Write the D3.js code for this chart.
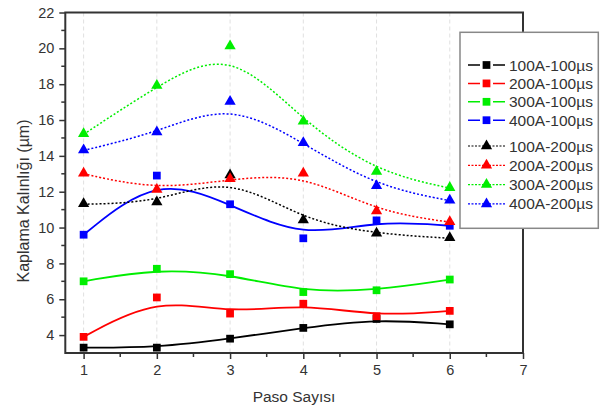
<!DOCTYPE html>
<html>
<head>
<meta charset="utf-8">
<script src="https://cdn.jsdelivr.net/npm/d3@7"></script>
<style>
body { margin:0; background:#fff; }
text { font-family: "Liberation Sans", Arial, sans-serif; fill:#333; }
</style>
</head>
<body>
<svg class="graph1"></svg>
<script>
// paso sayisi (x)
var steps = [1,2,3,4,5,6];
var xTicks = [1,2,3,4,5,6,7];
var yTicks = [4,6,8,10,12,14,16,18,20,22];

// kaplama kalinligi values
var s100A100 = [3.3,3.3,3.8,4.4,4.9,4.6];
var s200A100 = [3.9,6.1,5.2,5.75,5.05,5.35];
var s300A100 = [7.0,7.7,7.4,6.4,6.5,7.1];
var s400A100 = [9.6,12.9,11.3,9.4,10.4,10.1];
var s100A200 = [11.3,11.4,12.9,10.4,9.65,9.4];
var s200A200 = [13.0,12.1,12.7,13.0,10.9,10.3];
var s300A200 = [15.2,17.9,20.1,15.9,13.1,12.2];
var s400A200 = [14.3,15.3,17.0,14.7,12.3,11.5];

var names = ["100A-100\u00b5s","200A-100\u00b5s","300A-100\u00b5s","400A-100\u00b5s",
             "100A-200\u00b5s","200A-200\u00b5s","300A-200\u00b5s","400A-200\u00b5s"];
var values = [s100A100,s200A100,s300A100,s400A100,s100A200,s200A200,s300A200,s400A200];
var colors = ["#000000","#ff0000","#00ee00","#0000ff","#000000","#ff0000","#00ee00","#0000ff"];

var series = names.map(function(n,i){
    return {name:n, values:values[i], color:colors[i], dotted:i>=4};
});

var screen = {width:600,height:407};
var plot = {left:65.3,right:523,top:12.5,bottom:353};

var svg = d3.select(".graph1")
    .attr("width",screen.width)
    .attr("height",screen.height);

var xScale = d3.scaleLinear().domain([0.75,7]).range([plot.left,plot.right]);
var yScale = d3.scaleLinear().domain([3,22]).range([plot.bottom,plot.top]);

// vertical grid
svg.append("g")
    .selectAll("line")
    .data(steps)
    .enter()
    .append("line")
    .attr("x1",function(d){return xScale(d);})
    .attr("x2",function(d){return xScale(d);})
    .attr("y1",plot.top)
    .attr("y2",plot.bottom)
    .attr("stroke","#e0e0e0")
    .attr("stroke-width",1)
    .attr("stroke-dasharray","4,3");

var line = d3.line()
    .x(function(d,i){return xScale(steps[i]);})
    .y(function(d){return yScale(d);})
    .curve(d3.curveBasis);

var curves = svg.append("g");
series.forEach(function(s){
    curves.append("path")
        .attr("d",line(s.values))
        .attr("fill","none")
        .attr("stroke",s.color)
        .attr("stroke-width",s.dotted?1.5:1.8)
        .attr("stroke-dasharray",s.dotted?"2,2":null);
});

var square = d3.symbol().type(d3.symbolSquare).size(60);
var triangle = d3.symbol().type(d3.symbolTriangle).size(55);

var marks = svg.append("g");
series.forEach(function(s){
    marks.selectAll(null)
        .data(s.values)
        .enter()
        .append("path")
        .attr("d",s.dotted?triangle:square)
        .attr("transform",function(d,i){
            return "translate("+xScale(steps[i])+","+(yScale(d)+(s.dotted?-0.5:0))+")";
        })
        .attr("fill",s.color);
});

// axes
var xAxis = d3.axisBottom(xScale).tickValues(xTicks).tickSize(6).tickPadding(6).tickFormat(d3.format("d"));
var yAxis = d3.axisLeft(yScale).tickValues(yTicks).tickSize(6).tickPadding(5).tickFormat(d3.format("d"));

var gx = svg.append("g")
    .attr("transform","translate(0,"+plot.bottom+")")
    .call(xAxis);
var gy = svg.append("g")
    .attr("transform","translate("+plot.left+",0)")
    .call(yAxis);

[gx,gy].forEach(function(g){
    g.select(".domain").remove();
    g.selectAll(".tick line").attr("stroke","#333").attr("stroke-width",1.5);
    g.selectAll(".tick text").attr("font-size",14.5).attr("fill","#333")
        .attr("font-family","Liberation Sans, Arial, sans-serif");
});

// minor ticks
svg.append("g").selectAll("line")
    .data(d3.range(1.5,7,1))
    .enter().append("line")
    .attr("x1",function(d){return xScale(d);})
    .attr("x2",function(d){return xScale(d);})
    .attr("y1",plot.bottom).attr("y2",plot.bottom+4)
    .attr("stroke","#333").attr("stroke-width",1.5);
svg.append("g").selectAll("line")
    .data(d3.range(5,22,2))
    .enter().append("line")
    .attr("y1",function(d){return yScale(d);})
    .attr("y2",function(d){return yScale(d);})
    .attr("x1",plot.left).attr("x2",plot.left-4)
    .attr("stroke","#333").attr("stroke-width",1.5);

// frame
svg.append("rect")
    .attr("x",plot.left).attr("y",plot.top)
    .attr("width",plot.right-plot.left)
    .attr("height",plot.bottom-plot.top)
    .attr("fill","none")
    .attr("stroke","#333")
    .attr("stroke-width",2);

// labels
svg.append("text")
    .text("Paso Say\u0131s\u0131")
    .attr("text-anchor","middle")
    .attr("x",294)
    .attr("y",402)
    .attr("font-size",15.5);

svg.append("g")
    .attr("transform","translate(29,201)")
    .append("text")
    .text("Kaplama Kal\u0131nl\u0131\u011f\u0131 (\u00b5m)")
    .attr("text-anchor","middle")
    .attr("transform","rotate(-90)")
    .attr("font-size",16);

// legend
var legend = svg.append("g");
legend.append("rect")
    .attr("x",460).attr("y",32.3)
    .attr("width",138.3).attr("height",196)
    .attr("fill","#fff")
    .attr("stroke","#888")
    .attr("stroke-width",1.5);

var rowY = function(i){ return i<4 ? 65+i*18.4 : 146+(i-4)*19.3; };

var rows = legend.selectAll("g.row")
    .data(series)
    .enter()
    .append("g")
    .attr("transform",function(d,i){return "translate(0,"+rowY(i)+")";});

rows.append("line")
    .attr("x1",468).attr("x2",505)
    .attr("y1",0).attr("y2",0)
    .attr("stroke",function(d){return d.color;})
    .attr("stroke-width",function(d){return d.dotted?1.2:1.5;})
    .attr("stroke-dasharray",function(d){return d.dotted?"2,1.5":"12,13";});

rows.append("path")
    .attr("d",function(d){return d.dotted?triangle():square();})
    .attr("transform","translate(486.5,0)")
    .attr("fill",function(d){return d.color;});

rows.append("text")
    .text(function(d){return d.name;})
    .attr("x",509)
    .attr("y",5.5)
    .attr("font-size",15.5);
</script>
</body>
</html>
